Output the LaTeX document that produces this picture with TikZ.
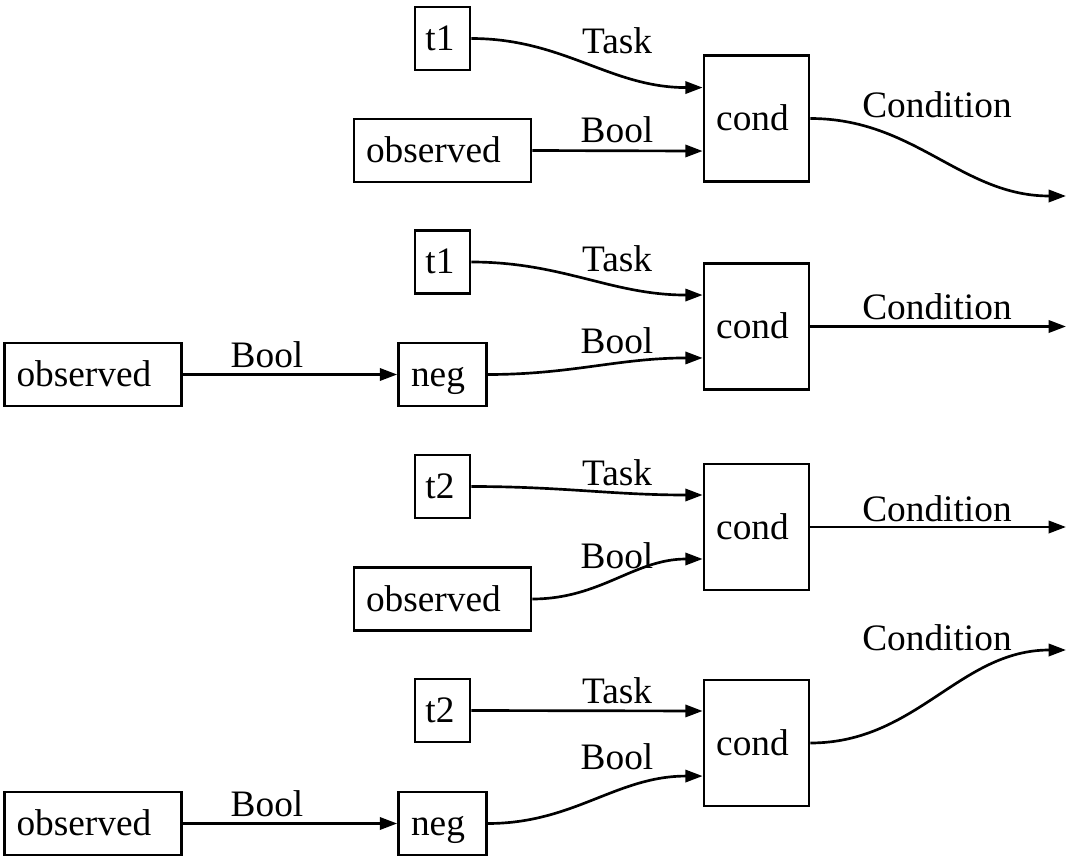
\documentclass[tikz,border=0pt]{standalone}
\usepackage{fontspec}
\setmainfont{Liberation Serif}
\usetikzlibrary{arrows.meta}

\tikzset{
  box/.style={draw, line width=1pt, inner sep=0pt, text height=9pt, text depth=0pt, minimum height=23.6pt},
  tbox/.style={box, minimum width=20.6pt, execute at end node={\kern1.9pt}},
  obsbox/.style={box, minimum width=66.4pt, execute at end node={\kern6.8pt}},
  negbox/.style={box, minimum width=33pt, execute at end node={\kern3.4pt}},
  condbox/.style={box, minimum width=39.4pt, minimum height=47.3pt, execute at end node={\kern3pt}},
  edge/.style={line width=1pt, -{Triangle[length=6.5pt,width=4.6pt]}},
  elabel/.style={anchor=base, inner sep=0pt},
}

\begin{document}
\begin{tikzpicture}[x=0.375pt, y=-0.375pt, font=\fontsize{14}{16}\selectfont]
    \useasboundingbox (0,0) rectangle (1088,864);

    % first
    \node[tbox] (t1a) at (442.5,38.5) {t1};
    \node[obsbox] (obsa) at (442.5,150.5) {observed};
    \node[condbox] (conda) at (756.5,118.5) {cond};
    \coordinate (outa) at (1066,196);
    \draw[edge] (t1a.east) to[out=0,in=180] ([yshift=11.6pt]conda.west);
    \draw[edge] (obsa.east) -- ([yshift=-12.2pt]conda.west);
    \draw[edge] (conda.east) to[out=0,in=180] (outa);
    \node[elabel] (taska) at (617,53) {Task};
    \node[elabel] (boola) at (617,143) {Bool};
    \node[elabel] (condla) at (937,117) {Condition};

    % second
    \node[tbox] (t1b) at (442.5,262) {t1};
    \node[negbox] (negb) at (442.5,374.5) {neg};
    \node[obsbox] (obsb) at (93,374.5) {observed};
    \node[condbox] (condb) at (756.5,326.5) {cond};
    \coordinate (outb) at (1066,326.5);
    \draw[edge] (obsb.east) -- (negb.west);
    \draw[edge] (t1b.east) to[out=0,in=180] ([yshift=11.8pt]condb.west);
    \draw[edge] (negb.east) to[out=0,in=180] ([yshift=-11.8pt]condb.west);
    \draw[edge] (condb.east) -- (outb);
    \node[elabel] (boolleftb) at (267,367) {Bool};
    \node[elabel] (taskb) at (617,271) {Task};
    \node[elabel] (boolb) at (617,353) {Bool};
    \node[elabel] (condlb) at (937,319) {Condition};

    % third
    \node[tbox] (t2c) at (442.5,486.5) {t2};
    \node[obsbox] (obsc) at (442.5,599) {observed};
    \node[condbox] (condc) at (756.5,527) {cond};
    \coordinate (outc) at (1066,527);
    \draw[edge] (t2c.east) to[out=0,in=180] ([yshift=12pt]condc.west);
    \draw[edge] (obsc.east) to[out=0,in=180] ([yshift=-12pt]condc.west);
    \draw[edge] (condc.east) -- (outc);
    \node[elabel] (taskc) at (617,485) {Task};
    \node[elabel] (boolc) at (617,568) {Bool};
    \node[elabel] (condlc) at (937,521) {Condition};

    % fourth
    \node[tbox] (t2d) at (442.5,710.5) {t2};
    \node[negbox] (negd) at (442.5,823.5) {neg};
    \node[obsbox] (obsd) at (93,823.5) {observed};
    \node[condbox] (condd) at (756.5,743) {cond};
    \coordinate (outd) at (1066,650);
    \draw[edge] (obsd.east) -- (negd.west);
    \draw[edge] (t2d.east) -- ([yshift=12pt]condd.west);
    \draw[edge] (negd.east) to[out=0,in=180] ([yshift=-12.4pt]condd.west);
    \draw[edge] (condd.east) to[out=0,in=180] (outd);
    \node[elabel] (boolleftd) at (267,816) {Bool};
    \node[elabel] (taskd) at (617,703) {Task};
    \node[elabel] (boold) at (617,769) {Bool};
    \node[elabel] (condld) at (937,650) {Condition};
\end{tikzpicture}
\end{document}
